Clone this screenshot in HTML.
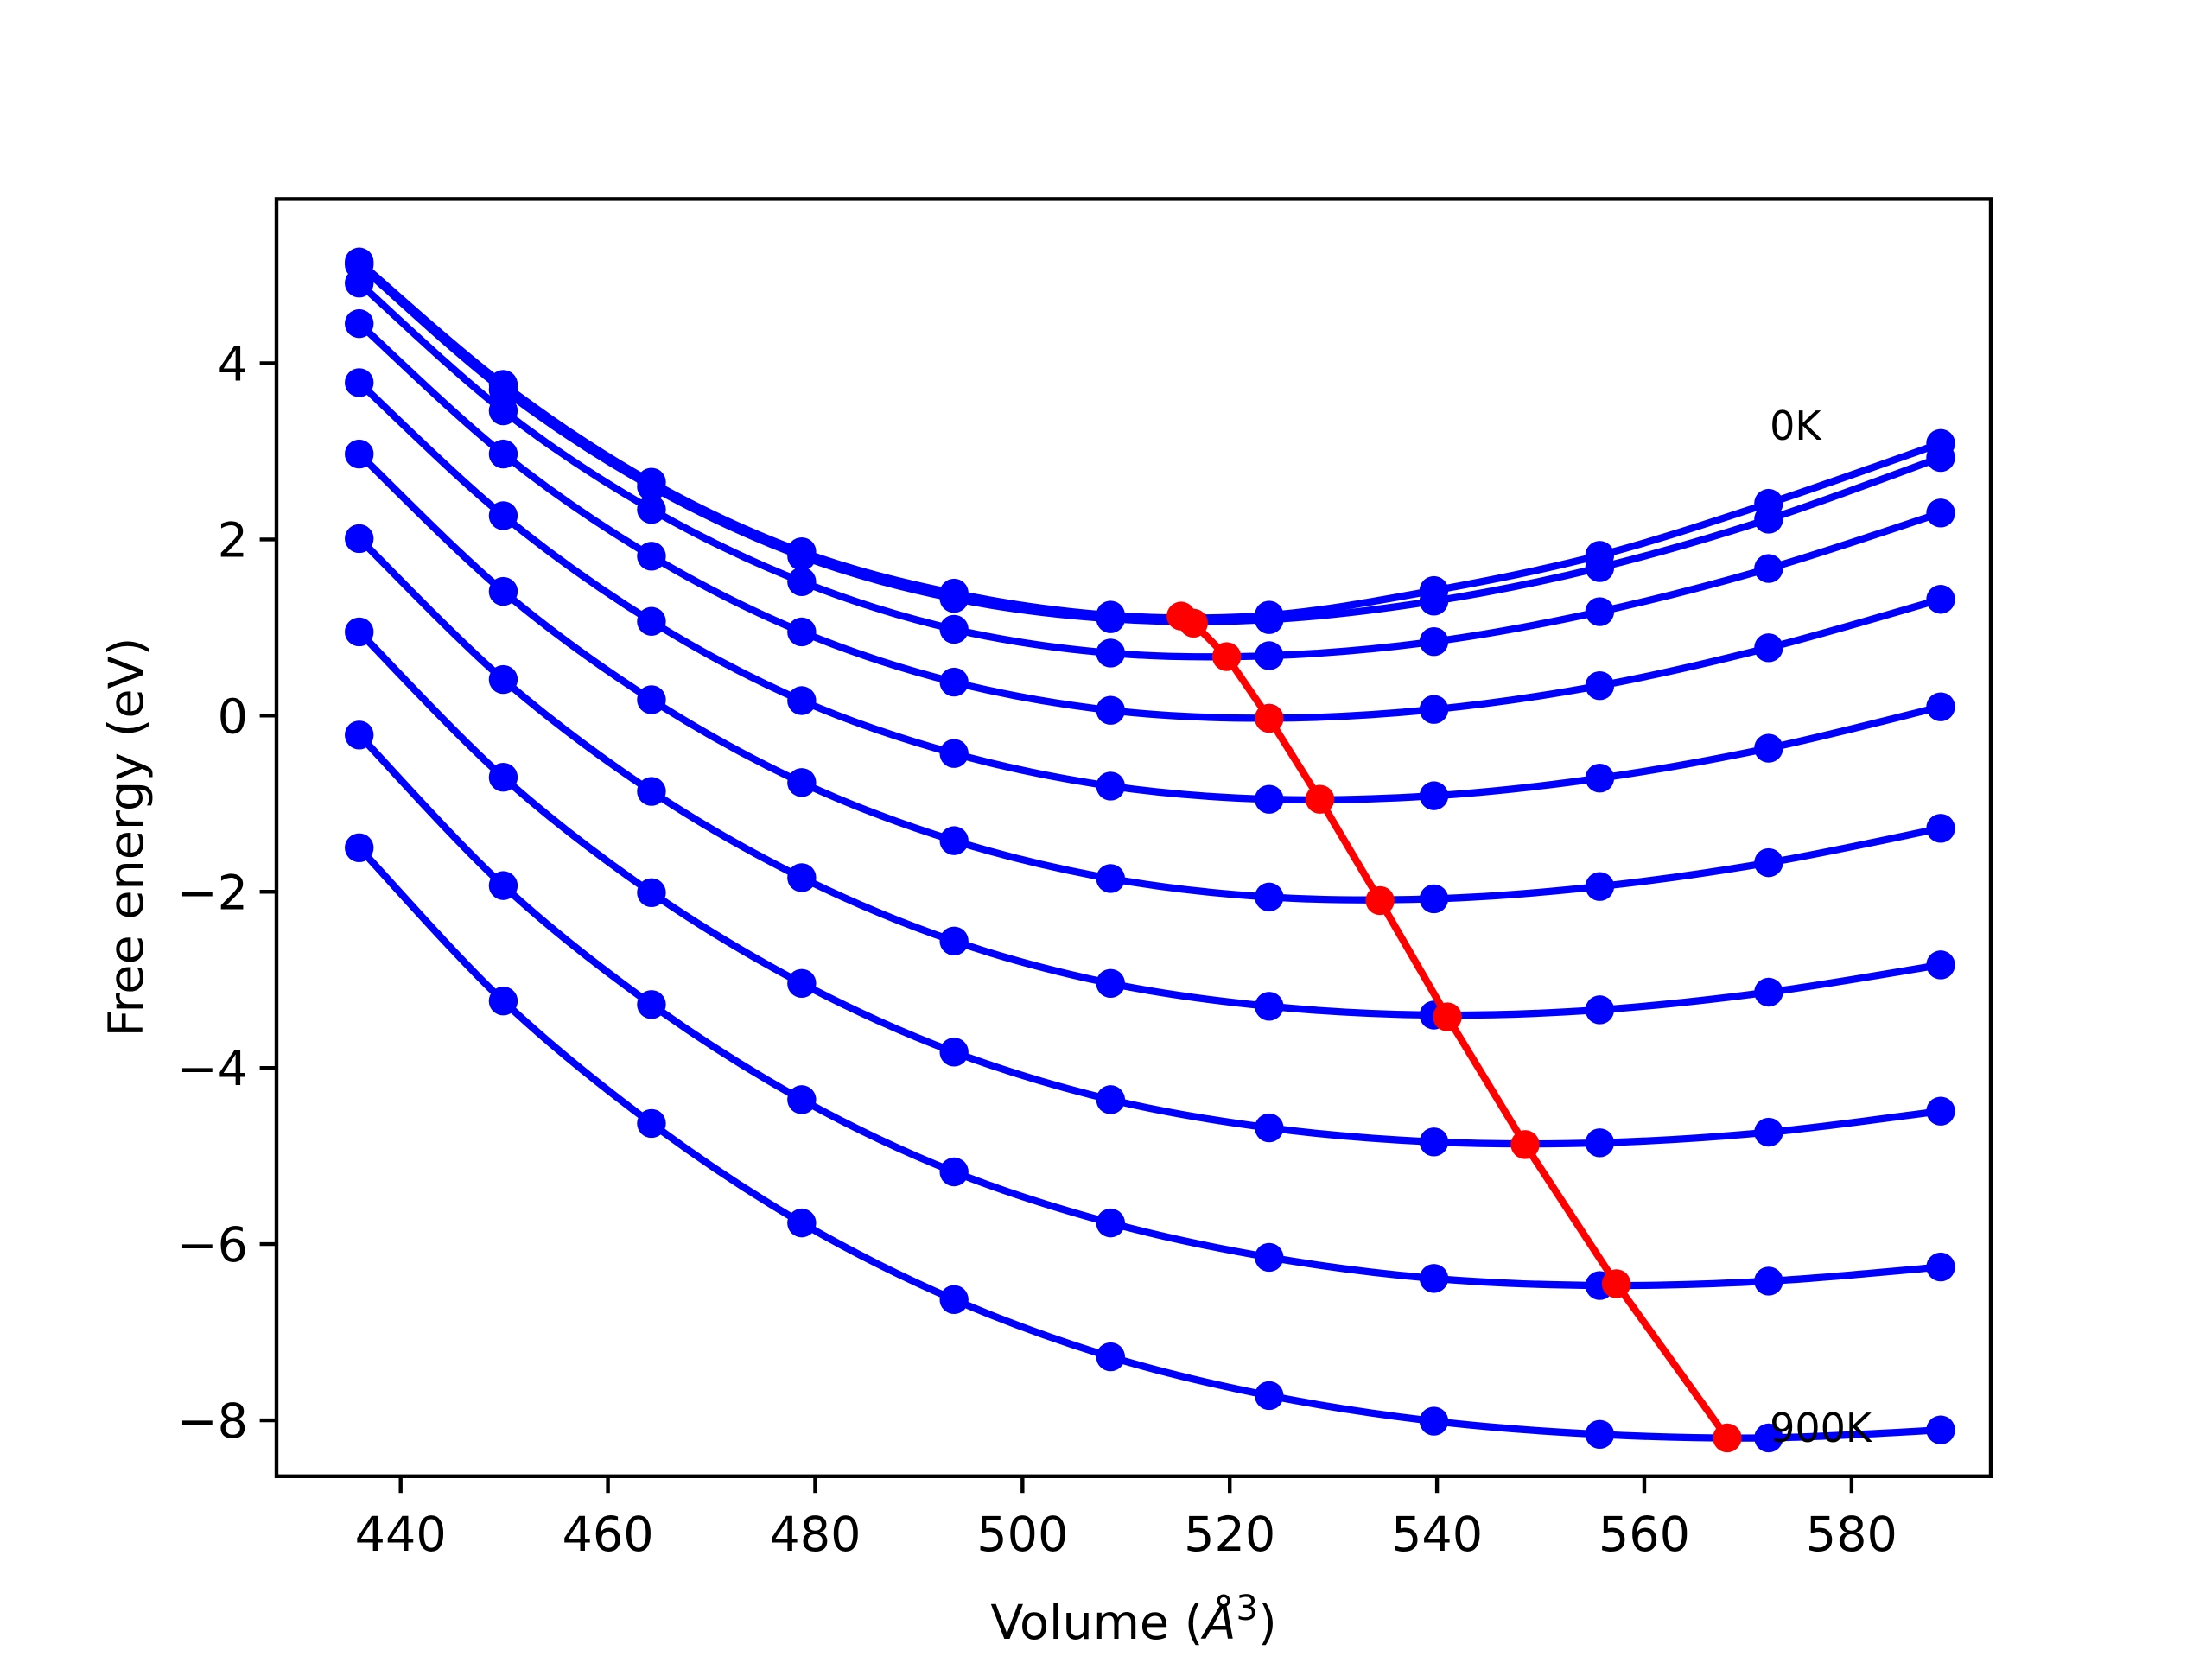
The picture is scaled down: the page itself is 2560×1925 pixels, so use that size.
<!DOCTYPE html>
<html><head><meta charset="utf-8"><style>
body{margin:0;background:#fff}
svg text{font-family:"DejaVu Sans","Liberation Sans",sans-serif;fill:#000}
</style></head><body>
<svg id="chart" width="2560" height="1920" viewBox="0 0 2560 1920" xmlns="http://www.w3.org/2000/svg">
<rect width="2560" height="1920" fill="#fff"/>
<g id="plot"></g>
<g id="axes"></g>
</svg>
<script>
const volumes=[436.0,449.9,464.2,478.7,493.4,508.5,523.8,539.7,555.7,572.0,588.6];
const curve0=[5.15,3.76,2.65,1.86,1.39,1.14,1.14,1.42,1.82,2.41,3.09];
const curve1=[5.12,3.70,2.60,1.81,1.33,1.10,1.09,1.30,1.68,2.23,2.93];
const curve2=[4.91,3.46,2.34,1.52,0.98,0.71,0.68,0.84,1.18,1.67,2.30];
const curve3=[4.45,2.97,1.81,0.95,0.38,0.06,-0.03,0.07,0.34,0.77,1.32];
const curve4=[3.78,2.27,1.07,0.17,-0.43,-0.80,-0.95,-0.91,-0.71,-0.37,0.10];
const curve5=[2.97,1.41,0.18,-0.76,-1.42,-1.85,-2.06,-2.08,-1.94,-1.67,-1.28];
const curve6=[2.01,0.41,-0.86,-1.84,-2.56,-3.04,-3.30,-3.40,-3.34,-3.14,-2.83];
const curve7=[0.95,-0.70,-2.01,-3.04,-3.82,-4.36,-4.68,-4.84,-4.85,-4.73,-4.49];
const curve8=[-0.22,-1.93,-3.28,-4.36,-5.18,-5.76,-6.15,-6.39,-6.47,-6.42,-6.26];
const curve9=[-1.50,-3.24,-4.63,-5.76,-6.63,-7.28,-7.72,-8.01,-8.16,-8.20,-8.11];
const minVolumes=[515.3,516.5,519.7,523.8,528.7,534.5,541.0,548.5,557.3,568.0];
const minEnergies=[1.13,1.05,0.67,-0.03,-0.95,-2.10,-3.42,-4.87,-6.45,-8.20];
const xTicks=[440,460,480,500,520,540,560,580];
const yTicks=[4,2,0,-2,-4,-6,-8];

const NS="http://www.w3.org/2000/svg";
const L=320,R=2304,T=230.4,B=1708.8;
function X(v){return 463.7+(v-440)*11.994;}
function Y(v){return 420.5+(4-v)*101.96;}
function mk(tag,attrs,parent){const e=document.createElementNS(NS,tag);for(const k in attrs)e.setAttribute(k,attrs[k]);parent.appendChild(e);return e;}
const plot=document.getElementById('plot'),axes=document.getElementById('axes');
mk('clipPath',{id:'clip'},plot).appendChild(Object.assign(document.createElementNS(NS,'rect'),{})).setAttribute('x',L);
const cr=document.querySelector('#clip rect');cr.setAttribute('y',T);cr.setAttribute('width',R-L);cr.setAttribute('height',B-T);
function smooth(xs,ys){
  const p=xs.map((x,i)=>[X(x),Y(ys[i])]);
  let d=`M${p[0][0]},${p[0][1]}`;
  for(let i=0;i<p.length-1;i++){
    const p0=p[Math.max(0,i-1)],p1=p[i],p2=p[i+1],p3=p[Math.min(p.length-1,i+2)];
    const c1=[p1[0]+(p2[0]-p0[0])/6,p1[1]+(p2[1]-p0[1])/6];
    const c2=[p2[0]-(p3[0]-p1[0])/6,p2[1]-(p3[1]-p1[1])/6];
    d+=` C${c1[0]},${c1[1]} ${c2[0]},${c2[1]} ${p2[0]},${p2[1]}`;
  }
  return d;
}
const curves=[curve0,curve1,curve2,curve3,curve4,curve5,curve6,curve7,curve8,curve9];
curves.forEach((c,ci)=>{
  const g=mk('g',{},plot);
  
  
  const path=mk('path',{d:smooth(volumes,c),fill:'none',stroke:'#0000ff','stroke-width':8.3,'stroke-linecap':'square'},g);
  
  
  c.forEach((v,i)=>{
    const dot=mk('circle',{cx:X(volumes[i]),cy:Y(v),r:16.7,fill:'#0000ff'},g);
    
    
  });
});
const rg=mk('g',{},plot);


const rp=mk('polyline',{points:minVolumes.map((v,i)=>X(v)+','+Y(minEnergies[i])).join(' '),fill:'none',stroke:'#ff0000','stroke-width':8.3},rg);


minVolumes.forEach((v,i)=>{
  const d=mk('circle',{cx:X(v),cy:Y(minEnergies[i]),r:16.7,fill:'#ff0000'},rg);
  
  
});
const t0=mk('text',{x:X(572.1),y:Y(3.3)+17,'font-size':46},plot);t0.textContent='0K';


const t9=mk('text',{x:X(572.1),y:Y(-8.08)+17,'font-size':46},plot);t9.textContent='900K';


// frame
const fr=mk('rect',{x:L,y:T,width:R-L,height:B-T,fill:'none',stroke:'#000','stroke-width':4.4},axes);


xTicks.forEach(v=>{
  const tk=mk('line',{x1:X(v),x2:X(v),y1:B,y2:B+19.4,stroke:'#000','stroke-width':4.4},axes);
  
  
  const tl=mk('text',{x:X(v),y:B+86,'font-size':55.6,'text-anchor':'middle'},axes);
  tl.textContent=v;
  
  
});
yTicks.forEach(v=>{
  const tk=mk('line',{x1:L-19.4,x2:L,y1:Y(v),y2:Y(v),stroke:'#000','stroke-width':4.4},axes);
  
  
  const tl=mk('text',{x:L-33,y:Y(v)+20,'font-size':55.6,'text-anchor':'end'},axes);
  tl.textContent=v<0?'\u2212'+Math.abs(v):String(v);
  
  
});
</script>
<svg style="position:absolute;left:0;top:0" width="2560" height="1920">
<text x="1312" y="1897" font-size="55.6" text-anchor="middle" style="font-family:'DejaVu Sans','Liberation Sans',sans-serif">Volume (<tspan font-style="italic">Å</tspan><tspan dy="-22" font-size="40">3</tspan><tspan dy="22">)</tspan></text>
<text transform="translate(165,969) rotate(-90)" font-size="55.6" text-anchor="middle" style="font-family:'DejaVu Sans','Liberation Sans',sans-serif">Free energy (eV)</text>
</svg>
</body></html>
